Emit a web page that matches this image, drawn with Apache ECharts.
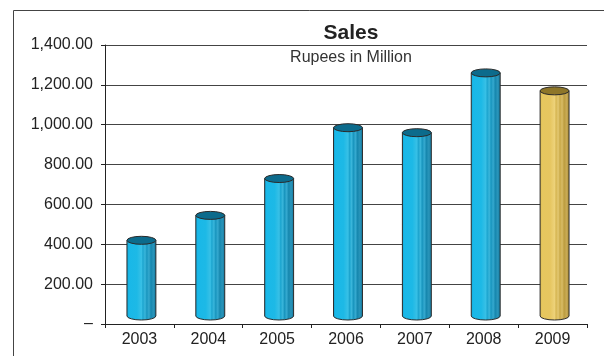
<!DOCTYPE html>
<html>
<head>
<meta charset="utf-8">
<script src="https://cdn.jsdelivr.net/npm/echarts@6/dist/echarts.min.js"></script>
<style>
  html, body { margin: 0; padding: 0; background: #fff; }
  #chart { width: 604px; height: 356px; }
</style>
</head>
<body>
<div id="chart"></div>
<script>
// data
const years = ["2003", "2004", "2005", "2006", "2007", "2008", "2009"];
const sales = [420, 545, 730, 985, 960, 1260, 1170];
const yMax = 1400;
const yStep = 200;
const highlightYear = "2009";

const blueStops = [
  [0, "#0FA6D6"], [0.08, "#19B8E8"], [0.35, "#1DB9E6"], [0.5, "#38C0E6"],
  [0.55, "#1CA5CF"], [0.62, "#3AB6DB"], [0.68, "#1895BE"], [0.75, "#35A9CF"],
  [0.82, "#1687AE"], [0.9, "#2A95BA"], [1, "#0F7399"]
];
const goldStops = [
  [0, "#D9B548"], [0.08, "#E6C75E"], [0.35, "#E6C660"], [0.5, "#EDD27A"],
  [0.55, "#D6B652"], [0.62, "#E3C872"], [0.68, "#C9A947"], [0.75, "#D8BC66"],
  [0.82, "#BC9C3E"], [0.9, "#C8AA55"], [1, "#A88A30"]
];

function grad(stops) {
  return new echarts.graphic.LinearGradient(0, 0, 1, 0,
    stops.map(s => ({ offset: s[0], color: s[1] })));
}

function renderCylinder(params, api) {
  const i = api.value(0);
  const v = api.value(1);
  const top = api.coord([i, v]);
  const base = api.coord([i, 0]);
  const bw = api.size([1, 0])[0] * 0.42;
  const rx = bw / 2;
  const ry = 4;
  const cx = top[0] + 2;
  const topY = top[1];
  const botY = base[1] - 8;
  const gold = years[i] === highlightYear;
  const body = "M" + (cx - rx) + "," + topY +
    " L" + (cx - rx) + "," + botY +
    " A" + rx + "," + ry + " 0 0 0 " + (cx + rx) + "," + botY +
    " L" + (cx + rx) + "," + topY + " Z";
  const cap = "M" + (cx - rx) + "," + topY +
    " A" + rx + "," + ry + " 0 1 0 " + (cx + rx) + "," + topY +
    " A" + rx + "," + ry + " 0 1 0 " + (cx - rx) + "," + topY + " Z";
  return {
    type: "group",
    children: [
      {
        type: "path",
        shape: { pathData: body },
        style: { fill: grad(gold ? goldStops : blueStops), stroke: "#2b2b2b", lineWidth: 1 }
      },
      {
        type: "path",
        shape: { pathData: cap },
        style: { fill: gold ? "#8E7629" : "#0C6B8C", stroke: "#2b2b2b", lineWidth: 1 }
      }
    ]
  };
}

const chart = echarts.init(document.getElementById("chart"));
chart.setOption({
  animation: false,
  textStyle: { fontFamily: "Liberation Sans, Arial, sans-serif" },
  graphic: [
    {
      type: "rect",
      left: 11, top: 8,
      shape: { width: 620, height: 380 },
      style: { fill: "none", stroke: "#444", lineWidth: 1 },
      z: 0
    }
  ],
  title: {
    text: "Sales",
    subtext: "Rupees in Million",
    left: 346,
    textAlign: "center",
    top: 18,
    itemGap: 6,
    textStyle: { fontSize: 21, fontWeight: "bold", color: "#222" },
    subtextStyle: { fontSize: 16, color: "#333" }
  },
  grid: { left: 105, right: 17, top: 45, bottom: 32 },
  xAxis: {
    type: "category",
    data: years,
    axisLine: { lineStyle: { color: "#222" } },
    axisTick: { show: true, length: 4, lineStyle: { color: "#222" } },
    axisLabel: { fontSize: 16, color: "#222", margin: 8 }
  },
  yAxis: {
    type: "value",
    min: 0,
    max: yMax,
    interval: yStep,
    axisLine: { show: true, lineStyle: { color: "#222" } },
    axisTick: { show: true, length: 4, lineStyle: { color: "#222" } },
    splitLine: { lineStyle: { color: "#444" } },
    axisLabel: {
      fontSize: 16,
      color: "#222",
      margin: 12,
      formatter: v => v === 0 ? "–" : v.toLocaleString("en-US", { minimumFractionDigits: 2, maximumFractionDigits: 2 })
    }
  },
  series: [
    {
      type: "custom",
      renderItem: renderCylinder,
      encode: { x: 0, y: 1 },
      data: sales.map((s, i) => [i, s]),
      clip: false
    }
  ]
});
</script>
</body>
</html>
